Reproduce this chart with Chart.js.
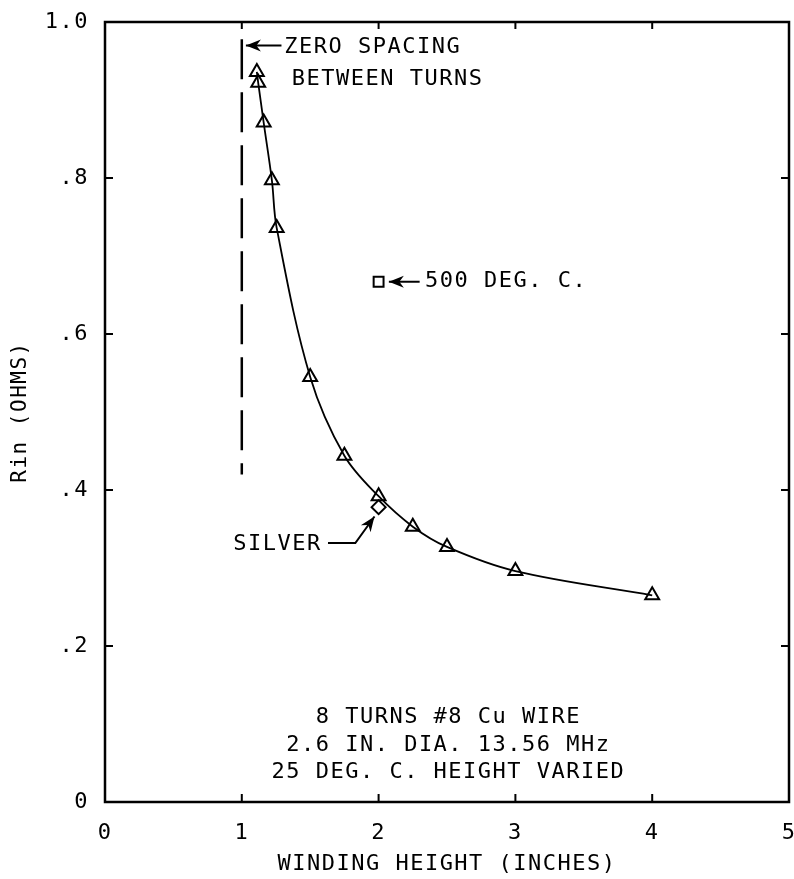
<!DOCTYPE html>
<html>
<head>
<meta charset="utf-8">
<script src="https://cdn.jsdelivr.net/npm/chart.js@4/dist/chart.umd.min.js"></script>
<style>
    html, body { margin: 0; padding: 0; background: #fff; }
    #wrap { width: 794px; height: 879px; }
</style>
</head>
<body>
<div id="wrap"><canvas id="chart" width="794" height="879"></canvas></div>
<script>
(function () {
    'use strict';

    // winding height (in) vs input resistance (ohms), 8 turns, 25 deg C
    var heightIn = [1.11, 1.12, 1.16, 1.22, 1.255, 1.5, 1.75, 2.0, 2.25, 2.5, 3.0, 4.0];
    var rinOhms = [0.936, 0.922, 0.871, 0.797, 0.736, 0.545, 0.444, 0.392, 0.353, 0.327, 0.296, 0.265];

    // single extra measurements
    var silverX = [2.0];
    var silverY = [0.378];
    var hotX = [2.0];
    var hotY = [0.667];

    // zero spacing marker line
    var zeroSpacingX = [1.0, 1.0];
    var zeroSpacingY = [0.978, 0.42];

    var xTicks = [0, 1, 2, 3, 4, 5];
    var yTicks = [0, 0.2, 0.4, 0.6, 0.8, 1.0];
    var yTickLabels = ['0', '.2', '.4', '.6', '.8', '1.0'];

    var notes = [
        { text: 'ZERO SPACING', x: 1.31, y: 0.968, align: 'left' },
        { text: 'BETWEEN TURNS', x: 1.365, y: 0.926, align: 'left' },
        { text: '500 DEG. C.', x: 2.34, y: 0.667, align: 'left' },
        { text: 'SILVER', x: 1.585, y: 0.330, align: 'right' },
        { text: '8 TURNS #8 Cu WIRE', x: 2.51, y: 0.108, align: 'center' },
        { text: '2.6 IN. DIA. 13.56 MHz', x: 2.51, y: 0.073, align: 'center' },
        { text: '25 DEG. C. HEIGHT VARIED', x: 2.51, y: 0.038, align: 'center' }
    ];
    // arrows: polyline in data units, head at the last point
    var arrows = [
        [[1.29, 0.970], [1.03, 0.970]],
        [[2.30, 0.667], [2.075, 0.667]],
        [[1.63, 0.332], [1.83, 0.332], [1.97, 0.366]]
    ];

    var FONT = '"DejaVu Sans Mono", "Liberation Mono", monospace';
    var SPACING = '1.5px';
    var PLOT_RIGHT = 789;

    function drawArrow(ctx, pts) {
        ctx.beginPath();
        ctx.moveTo(pts[0][0], pts[0][1]);
        for (var i = 1; i < pts.length; i++) {
            ctx.lineTo(pts[i][0], pts[i][1]);
        }
        ctx.stroke();
        var a = pts[pts.length - 2];
        var b = pts[pts.length - 1];
        var ang = Math.atan2(b[1] - a[1], b[0] - a[0]);
        var len = 15;
        var half = 6;
        var bx = b[0] - Math.cos(ang) * len;
        var by = b[1] - Math.sin(ang) * len;
        var mx = b[0] - Math.cos(ang) * len * 0.7;
        var my = b[1] - Math.sin(ang) * len * 0.7;
        ctx.beginPath();
        ctx.moveTo(b[0], b[1]);
        ctx.lineTo(bx - Math.sin(ang) * half, by + Math.cos(ang) * half);
        ctx.lineTo(mx, my);
        ctx.lineTo(bx + Math.sin(ang) * half, by - Math.cos(ang) * half);
        ctx.closePath();
        ctx.fill();
    }

    var plotFrame = {
        id: 'plotFrame',
        afterLayout: function (chart) {
            // stretch the plot to the right edge like the original figure
            var xs = chart.scales.x;
            xs.right = PLOT_RIGHT;
            xs.width = xs.right - xs.left;
            xs.configure();
            chart.chartArea.right = PLOT_RIGHT;
            chart.chartArea.width = PLOT_RIGHT - chart.chartArea.left;
        },
        beforeDraw: function (chart) {
            chart.ctx.letterSpacing = SPACING;
        },
        afterDraw: function (chart) {
            var ctx = chart.ctx;
            var area = chart.chartArea;
            var xs = chart.scales.x;
            var ys = chart.scales.y;
            ctx.save();
            ctx.strokeStyle = '#000';
            ctx.fillStyle = '#000';
            ctx.lineWidth = 2.5;
            ctx.strokeRect(area.left, area.top, area.right - area.left, area.bottom - area.top);

            ctx.lineWidth = 2;
            ctx.beginPath();
            for (var i = 1; i < xTicks.length - 1; i++) {
                var px = xs.getPixelForValue(xTicks[i]);
                ctx.moveTo(px, area.bottom);
                ctx.lineTo(px, area.bottom - 8);
                ctx.moveTo(px, area.top);
                ctx.lineTo(px, area.top + 7);
            }
            for (var j = 1; j < yTicks.length - 1; j++) {
                var py = ys.getPixelForValue(yTicks[j]);
                ctx.moveTo(area.left, py);
                ctx.lineTo(area.left + 8, py);
                ctx.moveTo(area.right, py);
                ctx.lineTo(area.right - 8, py);
            }
            ctx.stroke();

            ctx.lineWidth = 2;
            for (var k = 0; k < arrows.length; k++) {
                var pts = arrows[k].map(function (p) {
                    return [xs.getPixelForValue(p[0]), ys.getPixelForValue(p[1])];
                });
                drawArrow(ctx, pts);
            }

            ctx.font = '22px ' + FONT;
            ctx.letterSpacing = SPACING;
            ctx.textBaseline = 'middle';
            for (var n = 0; n < notes.length; n++) {
                ctx.textAlign = notes[n].align;
                ctx.fillText(notes[n].text,
                    xs.getPixelForValue(notes[n].x),
                    ys.getPixelForValue(notes[n].y));
            }
            ctx.restore();
            ctx.letterSpacing = '0px';
        }
    };

    new Chart(document.getElementById('chart'), {
        type: 'scatter',
        data: {
            datasets: [
                {
                    label: 'Rin',
                    data: heightIn.map(function (x, i) { return { x: x, y: rinOhms[i] }; }),
                    showLine: true,
                    borderColor: '#000',
                    borderWidth: 1.8,
                    tension: 0.35,
                    pointStyle: 'triangle',
                    pointRadius: 8,
                    pointBorderWidth: 2,
                    pointBackgroundColor: 'rgba(255,255,255,0)',
                    pointBorderColor: '#000'
                },
                {
                    label: 'Silver',
                    data: silverX.map(function (x, i) { return { x: x, y: silverY[i] }; }),
                    pointStyle: 'rectRot',
                    pointRadius: 7,
                    pointBorderWidth: 2,
                    pointBackgroundColor: 'rgba(255,255,255,0)',
                    pointBorderColor: '#000'
                },
                {
                    label: '500 deg C',
                    data: hotX.map(function (x, i) { return { x: x, y: hotY[i] }; }),
                    pointStyle: 'rect',
                    pointRadius: 7,
                    pointBorderWidth: 2,
                    pointBackgroundColor: 'rgba(255,255,255,0)',
                    pointBorderColor: '#000'
                },
                {
                    label: 'Zero spacing',
                    data: zeroSpacingX.map(function (x, i) { return { x: x, y: zeroSpacingY[i] }; }),
                    showLine: true,
                    borderColor: '#000',
                    borderWidth: 2.5,
                    borderDash: [40, 13],
                    pointRadius: 0
                }
            ]
        },
        options: {
            responsive: false,
            animation: false,
            devicePixelRatio: 1,
            layout: { padding: { top: 22, right: 0, left: 0, bottom: 0 } },
            plugins: {
                legend: { display: false },
                tooltip: { enabled: false }
            },
            scales: {
                x: {
                    type: 'linear',
                    min: 0,
                    max: 5,
                    afterFit: function (scale) {
                        scale.height = 77;
                        scale.paddingLeft = 0;
                        scale.paddingRight = 0;
                    },
                    afterBuildTicks: function (scale) {
                        scale.ticks = xTicks.map(function (v) { return { value: v }; });
                    },
                    ticks: {
                        color: '#000',
                        font: { family: FONT, size: 22 },
                        padding: 18,
                        maxRotation: 0,
                        callback: function (v) { return String(v); }
                    },
                    grid: { display: false, drawTicks: false },
                    border: { display: false },
                    title: {
                        display: true,
                        text: 'WINDING HEIGHT (INCHES)',
                        color: '#000',
                        font: { family: FONT, size: 22 },
                        padding: { top: 0, bottom: 2 }
                    }
                },
                y: {
                    type: 'linear',
                    min: 0,
                    max: 1,
                    afterFit: function (scale) {
                        scale.width = 105;
                        scale.paddingTop = 0;
                        scale.paddingBottom = 0;
                    },
                    afterBuildTicks: function (scale) {
                        scale.ticks = yTicks.map(function (v) { return { value: v }; });
                    },
                    ticks: {
                        color: '#000',
                        font: { family: FONT, size: 22 },
                        padding: 16,
                        callback: function (v) {
                            var idx = yTicks.indexOf(v);
                            return idx >= 0 ? yTickLabels[idx] : '';
                        }
                    },
                    grid: { display: false, drawTicks: false },
                    border: { display: false },
                    title: {
                        display: true,
                        text: 'Rin (OHMS)',
                        color: '#000',
                        font: { family: FONT, size: 21 },
                        padding: { top: 8, bottom: 0 }
                    }
                }
            }
        },
        plugins: [plotFrame]
    });
})();
</script>
</body>
</html>
